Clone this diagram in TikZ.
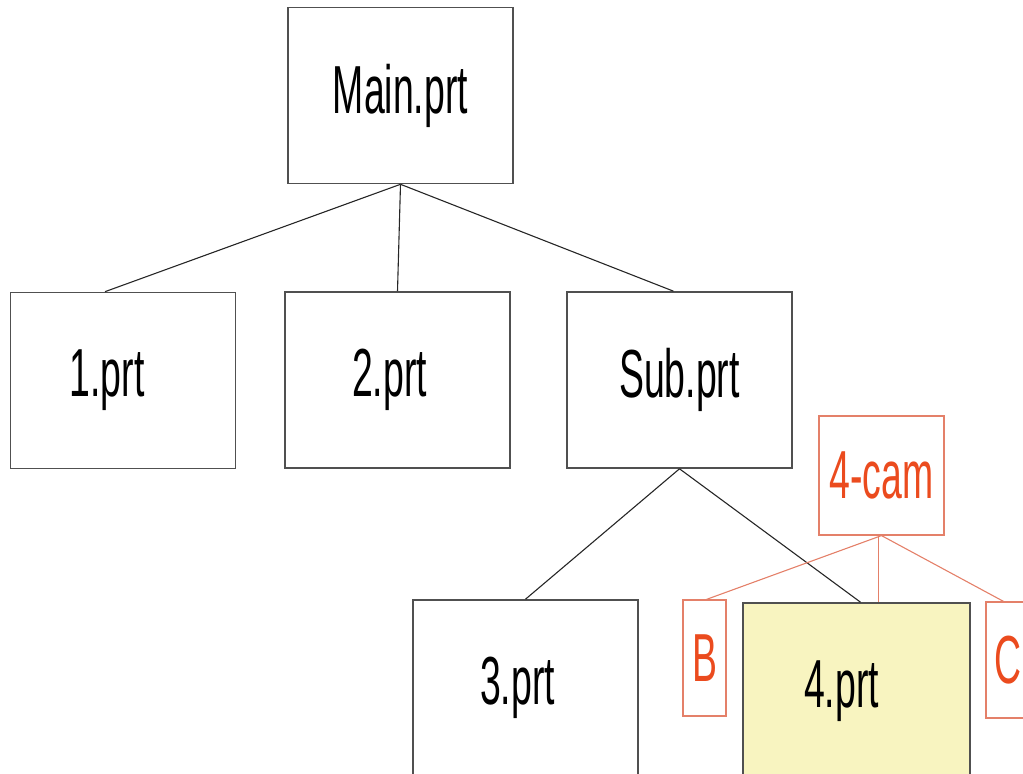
\documentclass[tikz,border=0pt]{standalone}
\usepackage{fontspec}
\usepackage{tikz}
\usetikzlibrary{positioning}
\newfontfamily\partfont[FakeStretch=0.55]{Liberation Sans}
\definecolor{camred}{RGB}{235,75,30}
\definecolor{camline}{RGB}{228,128,105}
\definecolor{partyellow}{RGB}{248,244,192}
\definecolor{boxgray}{RGB}{80,80,80}
\newcommand{\padr}[1]{\rule{#1}{0pt}}
\tikzstyle{link} = [line width=0.55pt, color=black!85]
\tikzstyle{camlink} = [line width=0.55pt, color=camline]
\tikzstyle{part} = [rectangle, draw=boxgray, line width=0.8pt, inner sep=0pt, minimum width=112.5pt, minimum height=88pt, font=\partfont\fontsize{34}{40}\selectfont, text=black]
\tikzstyle{camtag} = [rectangle, draw=camline, line width=0.6pt, inner sep=0pt, font=\partfont\fontsize{34}{40}\selectfont, text=camred]

\begin{document}
\begin{tikzpicture}[x=0.5pt, y=-0.5pt]
\useasboundingbox (0,0) rectangle (1023,774);
\clip (0,0) rectangle (1023,774);
% Top assembly
\node (main) [part] at (400.5,95.5) {Main.prt};

% First level
\node (p1) [part] at (123,380.5) {1.prt\padr{16pt}};
\node (p2) [part] at (397.5,380) {2.prt\padr{8pt}};
\node (sub) [part] at (679.5,380) {Sub.prt};

% Second level
\node (p3) [part] at (525.5,688) {3.prt\padr{8pt}};
\node (p4) [part, fill=partyellow, minimum width=113.5pt] at (856.5,691) {4.prt\padr{15pt}};

% Cam group
\node (cam) [camtag, minimum width=62.5pt, minimum height=59.5pt] at (881.5,475.5) {4-cam};
\node (tagb) [camtag, minimum width=21.5pt, minimum height=58pt] at (704.5,658) {B};
\node (tagc) [camtag, minimum width=21.5pt, minimum height=58pt] at (1007.5,660) {C};

% Tree links
\draw[link] (main.south) -- ([xshift=-9pt]p1.north);
\draw[link] (main.south) -- (p2.north);
\draw[link] (main.south) -- ([xshift=-3pt]sub.north);
\draw[link] (sub.south) -- (p3.north);
\draw[link] (sub.south) -- ([xshift=2pt]p4.north);

% Cam links
\draw[camlink] (cam.south) -- ([xshift=1pt]tagb.north);
\draw[camlink] ([xshift=-1.5pt]cam.south) -- ([xshift=-1.5pt]cam.south |- p4.north);
\draw[camlink] (cam.south) -- ([xshift=-2pt]tagc.north);
\end{tikzpicture}
\end{document}
